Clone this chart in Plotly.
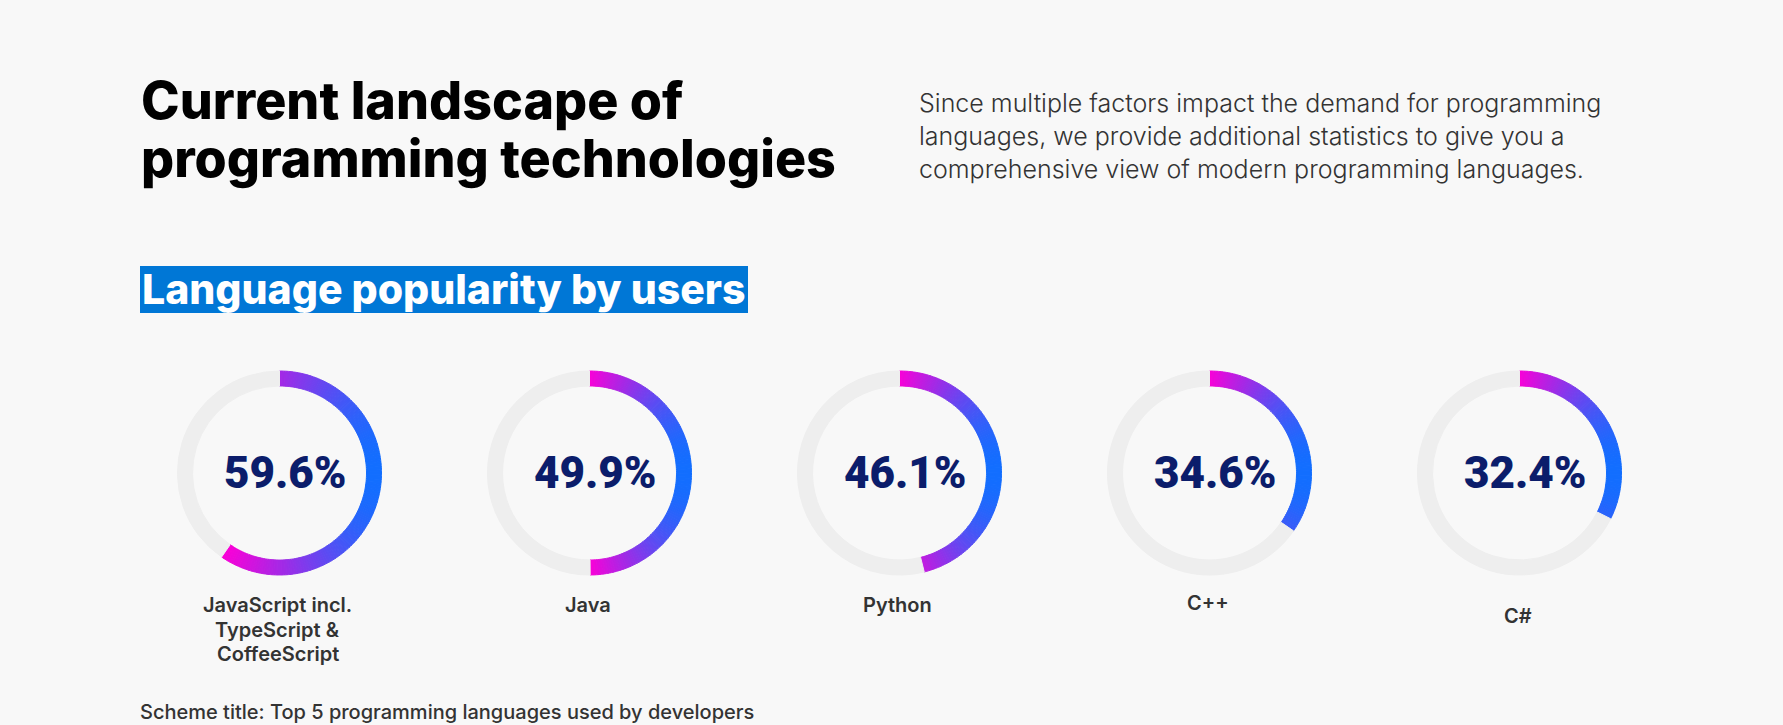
import numpy as np
import plotly.graph_objects as go

# ---------------- data ----------------
label_lines = [
    ["JavaScript incl.", "TypeScript &", "CoffeeScript"],
    ["Java"],
    ["Python"],
    ["C++"],
    ["C#"],
]
shares = [59.6, 49.9, 46.1, 34.6, 32.4]
share_text = ["59.6%", "49.9%", "46.1%", "34.6%", "32.4%"]

title_lines = ["Current landscape of", "programming technologies"]
intro_lines = [
    "Since multiple factors impact the demand for programming",
    "languages, we provide additional statistics to give you a",
    "comprehensive view of modern programming languages.",
]
section_title = "Language popularity by users"
caption = "Scheme title: Top 5 programming languages used by developers"

# ---------------- layout constants ----------------
W, H = 1783, 725
BG = "#F8F8F8"
TRACK = "#EEEEEE"
C_START = np.array([250, 0, 215])   # magenta
C_END = np.array([18, 110, 255])    # blue
R = 102
RING = 15
CX0, DX, CY = 279.5, 310, 473
label_base = [612, 612, 612, 610, 623]
FONT = "Inter"

def px(x):
    return x / W

def py(y):
    return 1 - y / H

def hexcol(c):
    c = np.clip(np.round(c), 0, 255).astype(int)
    return "#%02x%02x%02x" % tuple(c)

fig = go.Figure()
annotations = []
shapes = []

for i, v in enumerate(shares):
    cx = CX0 + DX * i
    n = max(1, int(round(v / 0.4)))
    chunk = v / n
    vals = [chunk] * n + [100 - v]
    # horizontal gradient across the bounding box of the arc
    arc = np.linspace(0, v / 100 * 2 * np.pi, 400)
    xs = np.sin(arc)
    xmin, xmax = xs.min(), xs.max()
    cols = []
    for k in range(n):
        th = (k + 0.5) / n * v / 100 * 2 * np.pi
        t = (np.sin(th) - xmin) / (xmax - xmin)
        cols.append(hexcol(C_START + (C_END - C_START) * t))
    cols.append(TRACK)
    fig.add_trace(go.Pie(
        values=vals,
        marker=dict(colors=cols, line=dict(color=cols, width=1)),
        hole=(R - RING) / R,
        sort=False,
        direction="clockwise",
        rotation=0,
        textinfo="none",
        hoverinfo="skip",
        showlegend=False,
        domain=dict(x=[px(cx - R), px(cx + R)], y=[py(CY + R), py(CY - R)]),
    ))
    annotations.append(dict(
        text=share_text[i], x=px(cx + 6), y=py(CY), xref="paper", yref="paper",
        xanchor="center", yanchor="middle", showarrow=False,
        font=dict(family="Roboto", size=44, color="#0B1D6B", weight=900),
    ))
    for j, line in enumerate(label_lines[i]):
        base = label_base[i] + 24.5 * j
        annotations.append(dict(
            text=line, x=px(cx - 2), y=py(base - 7), xref="paper", yref="paper",
            xanchor="center", yanchor="middle", showarrow=False,
            font=dict(family=FONT, size=20, color="#333333", weight=600),
        ))

# main title
for j, (line, base) in enumerate(zip(title_lines, [119, 177])):
    annotations.append(dict(
        text=line, x=px(139), y=py(base - 19), xref="paper", yref="paper",
        xanchor="left", yanchor="middle", showarrow=False,
        font=dict(family=FONT, size=52, color="#000000", weight=800),
    ))

# intro paragraph
for j, line in enumerate(intro_lines):
    base = 112 + 33 * j
    annotations.append(dict(
        text=line, x=px(917), y=py(base - 9), xref="paper", yref="paper",
        xanchor="left", yanchor="middle", showarrow=False,
        font=dict(family=FONT, size=25, color="#333333", weight=300),
    ))

# section title with blue box
shapes.append(dict(type="rect", xref="paper", yref="paper",
                   x0=px(140), x1=px(748), y0=py(313), y1=py(266),
                   fillcolor="#0077D6", line=dict(width=0), layer="below"))
annotations.append(dict(
    text=section_title, x=px(140), y=py(289), xref="paper", yref="paper",
    xanchor="left", yanchor="middle", showarrow=False,
    font=dict(family=FONT, size=41, color="#FFFFFF", weight=800),
))

# caption
annotations.append(dict(
    text=caption, x=px(138), y=py(712), xref="paper", yref="paper",
    xanchor="left", yanchor="middle", showarrow=False,
    font=dict(family=FONT, size=20, color="#333333", weight=500),
))

fig.update_layout(
    width=W, height=H,
    margin=dict(l=0, r=0, t=0, b=0),
    paper_bgcolor=BG, plot_bgcolor=BG,
    annotations=annotations, shapes=shapes,
)
fig.write_html("out.html")
